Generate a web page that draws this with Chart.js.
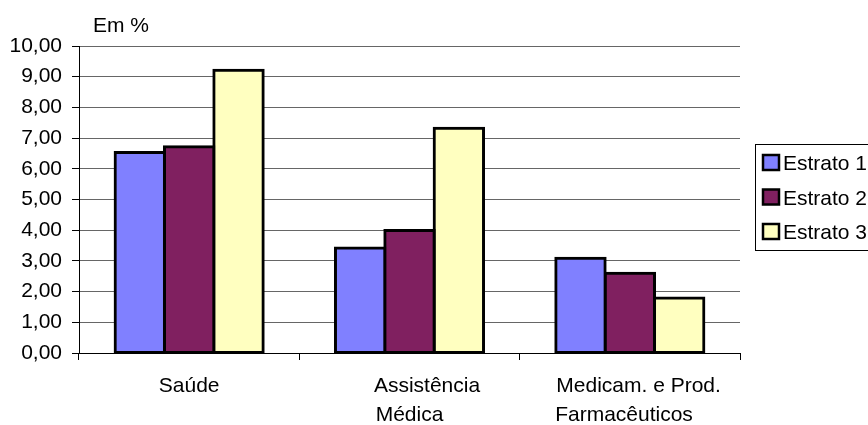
<!DOCTYPE html>
<html lang="pt-BR">
<head>
<meta charset="UTF-8">
<title>Despesas por estrato</title>
<script src="https://cdn.jsdelivr.net/npm/chart.js"></script>
<style>
  html, body { margin: 0; padding: 0; background: #fff; }
</style>
</head>
<body>
<canvas id="myChart" width="868" height="425"></canvas>
<script>
  // dados do gráfico (em %)
  var categorias = ["Saúde", ["      Assistência", "Médica"], ["   Medicam. e Prod.", "Farmacêuticos  "]];
  var estratos = ["Estrato 1", "Estrato 2", "Estrato 3"];
  var estrato1 = [6.53, 3.42, 3.09];
  var estrato2 = [6.72, 3.99, 2.60];
  var estrato3 = [9.21, 7.32, 1.79];
  var cores = ["#8080FF", "#802060", "#FFFFC0"];
  var eixoY = { min: 0, max: 10, passo: 1 };

  var fonte = '"Liberation Sans", Arial, sans-serif';
  Chart.defaults.font.family = fonte;
  Chart.defaults.font.size = 21;
  Chart.defaults.color = "#000";

  function virgula(v) {
    return Number(v).toFixed(2).replace(".", ",");
  }

  // titulo "Em %" e legenda com moldura, desenhados por cima
  const extras = {
    id: "extras",
    afterDraw(chart) {
      const ctx = chart.ctx;
      ctx.save();
      ctx.font = "21px " + fonte;
      ctx.fillStyle = "#000";
      ctx.textBaseline = "alphabetic";
      ctx.fillText("Em %", 93, 32);

      ctx.strokeStyle = "#000";
      ctx.lineWidth = 1;
      ctx.strokeRect(755.5, 144.5, 140, 106);

      chart.data.datasets.forEach(function (ds, i) {
        const base = 170 + i * 34.5;
        ctx.fillStyle = ds.backgroundColor;
        ctx.fillRect(763, base - 15, 16, 15);
        ctx.lineWidth = 2.5;
        ctx.strokeRect(763, base - 15, 16, 15);
        ctx.fillStyle = "#000";
        ctx.fillText(ds.label, 783, base);
      });
      ctx.restore();
    }
  };

  const data = {
    labels: categorias,
    datasets: [estrato1, estrato2, estrato3].map(function (valores, i) {
      return {
        label: estratos[i],
        data: valores,
        backgroundColor: cores[i],
        borderColor: "#000",
        borderWidth: 3,
        borderSkipped: false,
        inflateAmount: 1.5,
        categoryPercentage: 0.672,
        barPercentage: 1
      };
    })
  };

  const config = {
    type: "bar",
    data: data,
    plugins: [extras],
    options: {
      responsive: false,
      animation: false,
      devicePixelRatio: 1,
      layout: { padding: { top: 46, right: 128, left: 0, bottom: 0 } },
      plugins: {
        legend: { display: false },
        tooltip: { enabled: false }
      },
      scales: {
        x: {
          grid: {
            drawOnChartArea: false,
            drawTicks: true,
            tickLength: 7,
            color: "#000",
            offset: true
          },
          border: { color: "#000", width: 1 },
          ticks: {
            padding: 12,
            maxRotation: 0,
            autoSkip: false,
            font: { size: 21, lineHeight: "29px" }
          },
          afterFit: function (s) { s.height = 72; }
        },
        y: {
          min: eixoY.min,
          max: eixoY.max,
          ticks: {
            stepSize: eixoY.passo,
            padding: 10,
            callback: function (v) { return virgula(v); }
          },
          grid: { color: "#666", tickColor: "#000", tickLength: 7, lineWidth: 1 },
          border: { color: "#000", width: 1 },
          afterFit: function (s) { s.width = 79; }
        }
      }
    }
  };

  const myChart = new Chart(document.getElementById("myChart"), config);
</script>
</body>
</html>
